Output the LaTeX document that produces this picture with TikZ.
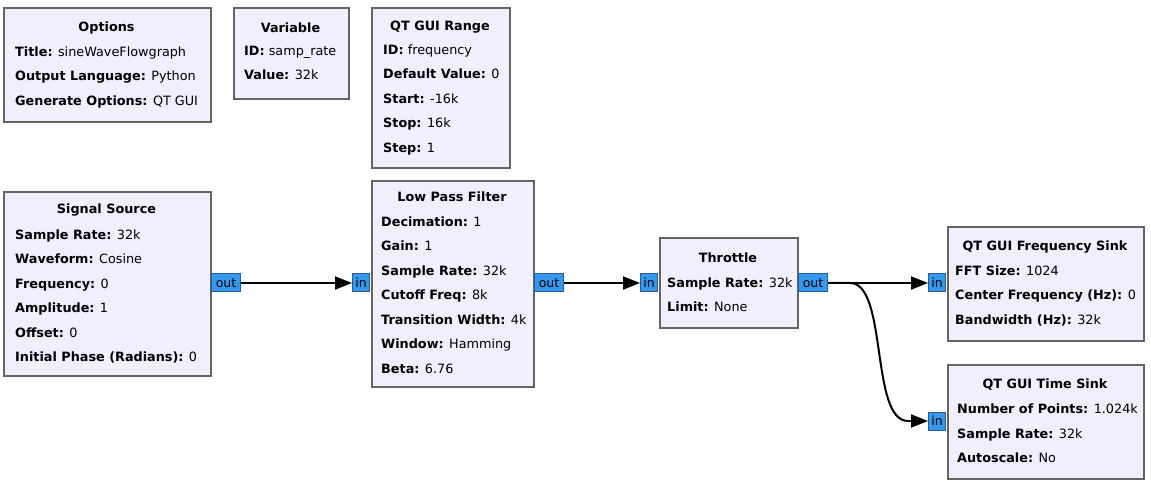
\documentclass[tikz,border=0pt]{standalone}
\usepackage{fontspec}
\setmainfont{DejaVu Sans}
\usetikzlibrary{arrows.meta,calc}

\definecolor{blkfill}{RGB}{241,238,254}
\definecolor{blkline}{RGB}{100,100,100}
\definecolor{portfill}{RGB}{52,152,238}
\definecolor{portline}{RGB}{40,90,160}
\newcommand\pline[2]{\textbf{#1:} #2}
\newcommand\blkfont{\fontsize{12.8}{24.5}\selectfont}

\tikzset{
  blk/.style={draw=blkline, fill=blkfill, line width=2pt, anchor=north west, inner sep=0pt},
  ttl/.style={anchor=base, font=\blkfont\bfseries, inner sep=0pt},
  prm/.style={anchor=base west, inner sep=0pt},
  port/.style={draw=portline, fill=portfill, line width=1pt, minimum height=18pt, inner sep=1pt, font=\fontsize{12.5}{14}\selectfont},
  outport/.style={port, anchor=west, minimum width=29pt},
  inport/.style={port, anchor=east, minimum width=17pt},
  wire/.style={line width=2pt, -{Triangle[length=17pt,width=13pt]}}
}

\begin{document}
\begin{tikzpicture}[x=1pt, y=-1pt, font=\blkfont]
  \useasboundingbox[fill=white] (0,0) rectangle (1151,486);

  % options, variable, range
  \node[blk, minimum width=207pt, minimum height=114pt] (opt) at (3,7) {};
  \node[ttl] (opt-t) at (106.5,31.5) {Options};
  \node[prm] (opt-p) at (15,56.5) {\begin{tabular}[t]{@{}l@{}}
    \pline{Title}{sineWaveFlowgraph}\\ \pline{Output Language}{Python}\\ \pline{Generate Options}{QT GUI}\end{tabular}};

  \node[blk, minimum width=115pt, minimum height=91pt] (var) at (233,7) {};
  \node[ttl] (var-t) at (290.5,32.5) {Variable};
  \node[prm] (var-p) at (244,55.5) {\begin{tabular}[t]{@{}l@{}}
    \pline{ID}{samp\_rate}\\ \pline{Value}{32k}\end{tabular}};

  \node[blk, minimum width=138pt, minimum height=160pt] (rng) at (371,7) {};
  \node[ttl] (rng-t) at (440,30.5) {QT GUI Range};
  \node[prm] (rng-p) at (383,54.5) {\begin{tabular}[t]{@{}l@{}}
    \pline{ID}{frequency}\\ \pline{Default Value}{0}\\ \pline{Start}{-16k}\\ \pline{Stop}{16k}\\ \pline{Step}{1}\end{tabular}};

  % signal chain
  \node[blk, minimum width=207pt, minimum height=184pt] (src) at (3,191) {};
  \node[ttl] (src-t) at (106.5,213.5) {Signal Source};
  \node[prm] (src-p) at (15,239.5) {\begin{tabular}[t]{@{}l@{}}
    \pline{Sample Rate}{32k}\\ \pline{Waveform}{Cosine}\\ \pline{Frequency}{0}\\ \pline{Amplitude}{1}\\
    \pline{Offset}{0}\\ \pline{Initial Phase (Radians)}{0}\end{tabular}};

  \node[blk, minimum width=162pt, minimum height=206pt] (lpf) at (371,180) {};
  \node[ttl] (lpf-t) at (452,201.5) {Low Pass Filter};
  \node[prm] (lpf-p) at (381,226.5) {\begin{tabular}[t]{@{}l@{}}
    \pline{Decimation}{1}\\ \pline{Gain}{1}\\ \pline{Sample Rate}{32k}\\ \pline{Cutoff Freq}{8k}\\
    \pline{Transition Width}{4k}\\ \pline{Window}{Hamming}\\ \pline{Beta}{6.76}\end{tabular}};

  \node[blk, minimum width=138pt, minimum height=90pt] (thr) at (659,237) {};
  \node[ttl] (thr-t) at (728,262.5) {Throttle};
  \node[prm] (thr-p) at (667,287.5) {\begin{tabular}[t]{@{}l@{}}
    \pline{Sample Rate}{32k}\\ \pline{Limit}{None}\end{tabular}};

  \node[blk, minimum width=196pt, minimum height=114pt] (fsk) at (947,226) {};
  \node[ttl] (fsk-t) at (1045,250.5) {QT GUI Frequency Sink};
  \node[prm] (fsk-p) at (955,275.5) {\begin{tabular}[t]{@{}l@{}}
    \pline{FFT Size}{1024}\\ \pline{Center Frequency (Hz)}{0}\\ \pline{Bandwidth (Hz)}{32k}\end{tabular}};

  \node[blk, minimum width=196pt, minimum height=114pt] (tsk) at (947,364) {};
  \node[ttl] (tsk-t) at (1045,388.5) {QT GUI Time Sink};
  \node[prm] (tsk-p) at (957,413.5) {\begin{tabular}[t]{@{}l@{}}
    \pline{Number of Points}{1.024k}\\ \pline{Sample Rate}{32k}\\ \pline{Autoscale}{No}\end{tabular}};

  % ports
  \node[outport] (src-out) at (211,283) {out};
  \node[inport]  (lpf-in)  at (370,283) {in};
  \node[outport] (lpf-out) at (534,283) {out};
  \node[inport]  (thr-in)  at (658,283) {in};
  \node[outport] (thr-out) at (798,283) {out};
  \node[inport]  (fsk-in)  at (946,283) {in};
  \node[inport]  (tsk-in)  at (946,421) {in};

  % connections
  \draw[wire] (src-out) -- (lpf-in);
  \draw[wire] (lpf-out) -- (thr-in);
  \draw[wire] (thr-out) -- (fsk-in);
  \draw[wire] (thr-out.east) -- ($(thr-out.east)+(22,0)$) .. controls +(38,0) and +(-38,0) .. ($(tsk-in.west)+(-20,0)$) -- (tsk-in.west);
\end{tikzpicture}
\end{document}
